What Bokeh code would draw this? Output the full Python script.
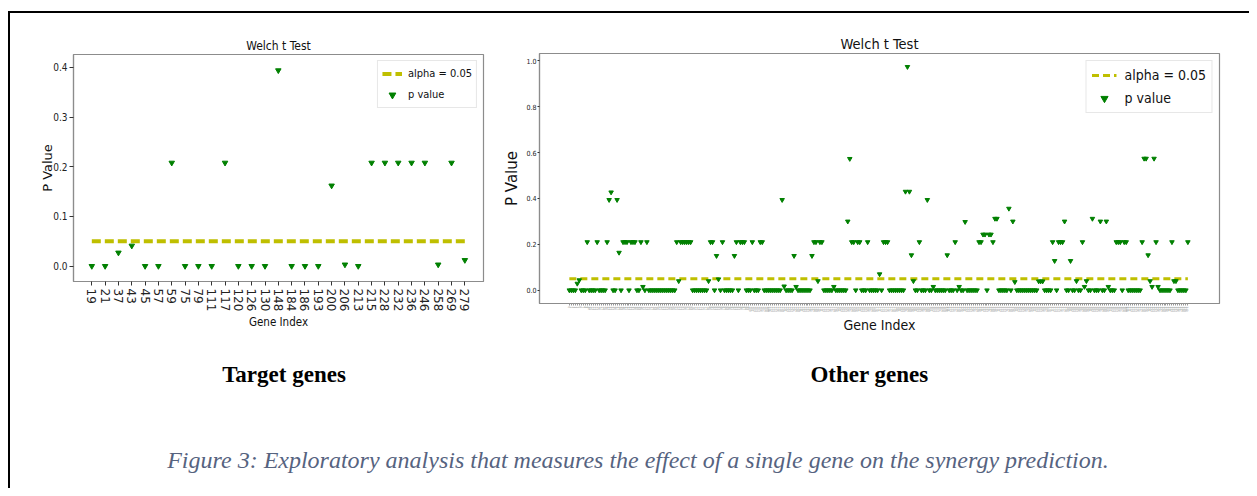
from bokeh.plotting import figure
from bokeh.models import Range1d, FixedTicker, Legend, LegendItem, Div, PrintfTickFormatter
from bokeh.layouts import column, row
from bokeh.embed import file_html
from bokeh.resources import INLINE
from bokeh.core.properties import value

# ---------------- data ----------------
alpha = 0.05

target_genes = ["19", "21", "37", "43", "45", "57", "59", "75", "79", "111", "117", "120",
                "126", "130", "148", "184", "186", "193", "200", "206", "213", "215", "228",
                "232", "236", "246", "258", "269", "279"]
target_p = [0.0, 0.0, 0.027, 0.041, 0.0, 0.0, 0.208, 0.0, 0.0, 0.0, 0.208, 0.0,
            0.0, 0.0, 0.394, 0.0, 0.0, 0.0, 0.162, 0.003, 0.0, 0.208, 0.208,
            0.208, 0.208, 0.208, 0.003, 0.208, 0.012]

# remaining gene indices (tick labels are unreadable in the source; all other ids 0..340)
other_genes = [str(g) for g in range(341) if str(g) not in target_genes]

other_p = [
    0, 0, 0, 0, 0.029, 0.044, 0, 0, 0, 0.21,
    0, 0, 0, 0, 0.21, 0, 0, 0, 0, 0.21,
    0.394, 0.427, 0, 0, 0.394, 0.164, 0, 0.21, 0.21, 0.21,
    0, 0.21, 0.21, 0.21, 0, 0, 0.21, 0.015, 0, 0.21,
    0, 0, 0, 0, 0, 0, 0, 0, 0, 0,
    0, 0, 0, 0, 0.21, 0.04, 0.21, 0.21, 0.21, 0.21,
    0.21, 0.21, 0, 0, 0, 0, 0, 0, 0, 0,
    0.04, 0.21, 0.21, 0, 0.15, 0.048, 0, 0.21, 0, 0,
    0, 0, 0, 0.15, 0.21, 0, 0.21, 0.21, 0.21, 0,
    0, 0, 0.21, 0, 0, 0, 0.21, 0.21, 0, 0,
    0, 0, 0, 0, 0, 0, 0, 0.394, 0.017, 0,
    0, 0, 0, 0.15, 0.015, 0, 0, 0, 0, 0,
    0, 0, 0.15, 0.21, 0.21, 0.04, 0.21, 0.21, 0, 0,
    0, 0, 0, 0.015, 0, 0, 0, 0, 0, 0,
    0.30, 0.573, 0.21, 0.21, 0, 0.21, 0.21, 0, 0, 0,
    0.21, 0, 0, 0, 0, 0, 0.07, 0, 0.21, 0.21,
    0.21, 0, 0, 0, 0, 0, 0, 0, 0, 0.43,
    0.974, 0.43, 0.153, 0.04, 0, 0, 0.21, 0, 0, 0,
    0.394, 0, 0, 0.015, 0, 0, 0, 0, 0, 0,
    0.153, 0, 0, 0, 0.21, 0, 0.015, 0, 0, 0.298,
    0, 0, 0, 0, 0, 0, 0.21, 0.21, 0.243, 0.243,
    0, 0.243, 0.243, 0.21, 0.312, 0.312, 0, 0, 0, 0,
    0, 0.356, 0, 0.30, 0.036, 0, 0, 0, 0, 0,
    0, 0, 0, 0, 0, 0, 0.039, 0.039, 0.039, 0,
    0, 0, 0, 0.21, 0.128, 0, 0.21, 0.21, 0.21, 0.30,
    0, 0, 0.128, 0, 0, 0.04, 0, 0, 0.21, 0.015,
    0.04, 0, 0, 0.312, 0, 0, 0, 0.30, 0, 0,
    0.30, 0.015, 0, 0, 0, 0.21, 0.21, 0.21, 0, 0.21,
    0.21, 0, 0, 0, 0, 0, 0, 0, 0.21, 0.574,
    0.574, 0.153, 0.04, 0.015, 0.574, 0.21, 0.015, 0, 0, 0,
    0, 0, 0, 0.21, 0.04, 0.04, 0, 0, 0, 0,
    0, 0.21,
]

# ---------------- styles ----------------
FONT = "DejaVu Sans Condensed"
GREEN = "#008000"
OLIVE = "#bfbf00"
FRAME = "#8c8c8c"


def style(p, tick_font, label_font, title_font):
    p.title.align = "center"
    p.title.text_font = FONT
    p.title.text_font_style = "normal"
    p.title.text_font_size = title_font
    p.title.text_color = "#111111"
    p.title.standoff = 3
    p.outline_line_color = FRAME
    p.outline_line_width = 1.2
    p.xgrid.visible = False
    p.ygrid.visible = False
    for ax in (p.xaxis[0], p.yaxis[0]):
        ax.axis_line_color = FRAME
        ax.axis_line_width = 1.2
        ax.major_tick_line_color = "#333333"
        ax.minor_tick_line_color = None
        ax.major_tick_in = 0
        ax.major_label_text_font = FONT
        ax.major_label_text_color = "#222222"
        ax.axis_label_text_font = FONT
        ax.axis_label_text_font_style = "normal"
        ax.axis_label_text_color = "#111111"
        ax.axis_label_text_font_size = label_font
    p.yaxis[0].major_label_text_font_size = tick_font


# ---------------- left: target genes ----------------
xs_t = list(range(len(target_genes)))
p1 = figure(width=490, height=322, x_range=Range1d(-1.374, 29.40), y_range=Range1d(-0.031, 0.426),
            output_backend="svg", toolbar_location=None, title="Welch t Test",
            min_border_left=63, min_border_right=17, min_border_top=41, min_border_bottom=54)
style(p1, "10px", "11.5px", "12px")
l1 = p1.line(x=[xs_t[0], xs_t[-1]], y=[alpha, alpha], line_color=OLIVE, line_width=4, line_dash="9 4")
s1 = p1.scatter(x=xs_t, y=target_p, marker="inverted_triangle", size=5.5, fill_color=GREEN,
                line_color=GREEN)
p1.xaxis.ticker = FixedTicker(ticks=xs_t)
p1.xaxis.major_label_overrides = {i: g for i, g in zip(xs_t, target_genes)}
p1.xaxis.major_label_orientation = "vertical"
p1.xaxis.major_label_text_font = "DejaVu Sans"
p1.xaxis.major_label_text_font_size = "12px"
p1.xaxis.major_tick_out = 4
p1.xaxis.major_label_standoff = 3
p1.xaxis.axis_label = "Gene Index"
p1.xaxis.axis_label_standoff = 1
p1.yaxis.ticker = FixedTicker(ticks=[0.0, 0.1, 0.2, 0.3, 0.4])
p1.yaxis.formatter = PrintfTickFormatter(format="%.1f")
p1.yaxis.major_tick_out = 4
p1.yaxis.major_label_standoff = 2
p1.yaxis.axis_label = "P Value"
p1.yaxis.axis_label_text_font = "DejaVu Sans"
p1.yaxis.axis_label_text_font_size = "13px"
p1.yaxis.axis_label_standoff = -5
leg1 = Legend(items=[LegendItem(label="alpha = 0.05", renderers=[l1]),
                     LegendItem(label="p value", renderers=[s1])],
              location="top_right", margin=6, padding=4, spacing=4,
              glyph_width=20, glyph_height=17, label_height=17, label_standoff=6,
              label_text_font=FONT, label_text_font_size="11px", label_text_color="#111111",
              border_line_color="#d0d0d0", border_line_width=1, background_fill_alpha=0.9)
p1.add_layout(leg1)

# ---------------- right: other genes ----------------
xs_o = list(range(len(other_p)))
p2 = figure(width=749, height=322, x_range=Range1d(-15.0, 326.9), y_range=Range1d(-0.058, 1.032),
            output_backend="svg", toolbar_location=None, title="Welch t Test",
            min_border_left=35, min_border_right=30, min_border_top=40, min_border_bottom=32)
style(p2, "7px", "14px", "14.5px")
l2 = p2.line(x=[xs_o[0], xs_o[-1]], y=[alpha, alpha], line_color=OLIVE, line_width=3, line_dash="7 4")
s2 = p2.scatter(x=xs_o, y=other_p, marker="inverted_triangle", size=4.5, fill_color=GREEN,
                line_color=GREEN)
p2.xaxis.ticker = FixedTicker(ticks=xs_o)
p2.xaxis.major_label_overrides = {i: g for i, g in zip(xs_o, other_genes[:len(xs_o)])}
p2.xaxis.major_label_orientation = "vertical"
p2.xaxis.major_label_text_font_size = "3px"
p2.xaxis.major_label_text_color = "#8a8a8a"
p2.xaxis.major_tick_out = 2
p2.xaxis.major_tick_line_color = "#999999"
p2.xaxis.major_label_standoff = 1
p2.xaxis.axis_label = "Gene Index"
p2.xaxis.axis_label_standoff = 2
p2.yaxis.ticker = FixedTicker(ticks=[0.0, 0.2, 0.4, 0.6, 0.8, 1.0])
p2.yaxis.formatter = PrintfTickFormatter(format="%.1f")
p2.yaxis.major_tick_out = 2
p2.yaxis.major_label_standoff = 1
p2.yaxis.axis_label = "P Value"
p2.yaxis.axis_label_text_font = "DejaVu Sans"
p2.yaxis.axis_label_text_font_size = "15px"
p2.yaxis.axis_label_standoff = 2
leg2 = Legend(items=[LegendItem(label="alpha = 0.05", renderers=[l2]),
                     LegendItem(label="p value", renderers=[s2])],
              location="top_right", margin=7, padding=5, spacing=5,
              glyph_width=25, glyph_height=18, label_height=18, label_standoff=8,
              label_text_font=FONT, label_text_font_size="14px", label_text_color="#111111",
              border_line_color="#d0d0d0", border_line_width=1, background_fill_alpha=0.9)
p2.add_layout(leg2)

# ---------------- captions ----------------
pt = figure(width=1239, height=153, x_range=Range1d(0, 1239), y_range=Range1d(153, 0),
            output_backend="svg", toolbar_location=None, min_border=0)
pt.axis.visible = False
pt.xgrid.visible = False
pt.ygrid.visible = False
pt.outline_line_color = None
pt.text(x=[273.5, 859], y=[39, 39], text=["Target genes", "Other genes"],
        text_font=value("Liberation Serif"), text_font_style="bold", text_font_size="23px",
        text_align="center", text_baseline="middle", text_color="#000000")
pt.text(x=[627.5], y=[124],
        text=["Figure 3: Exploratory analysis that measures the effect of a single gene on the synergy prediction."],
        text_font=value("Liberation Serif"), text_font_style="italic", text_font_size="24px",
        text_align="center", text_baseline="middle", text_color="#56637f")

top_gap = Div(text="", width=1249, height=11, margin=0)
left_gap = Div(text="", width=8, height=477, margin=0)
top_bar = Div(text="", width=1241, height=2, margin=0, styles={"background-color": "#000000"})
left_bar = Div(text="", width=2, height=475, margin=0, styles={"background-color": "#000000"})

layout = column(top_gap, row(left_gap, column(top_bar,
                                             row(left_bar, column(row(column(p1), column(p2)), pt)))))

open("out.html", "w").write(file_html(layout, INLINE))
